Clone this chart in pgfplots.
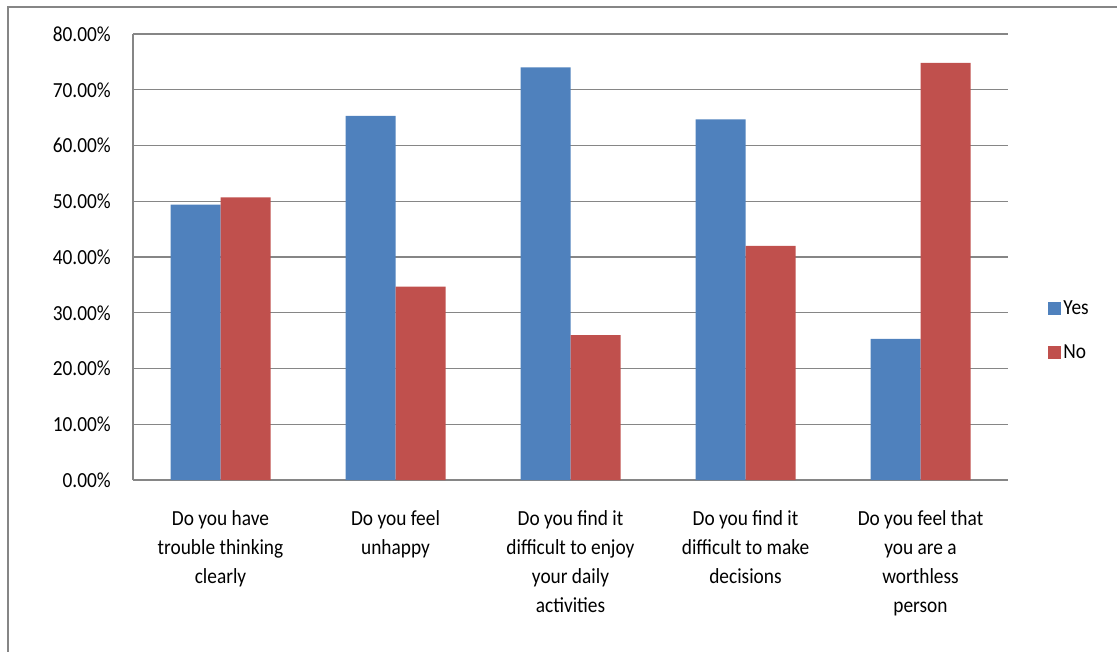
\documentclass[border=0pt]{standalone}
\usepackage{pgfplots}
\pgfplotsset{compat=1.18}
\usepackage{fontspec}
\setmainfont{Carlito}[FakeStretch=0.9]
\definecolor{xblue}{HTML}{4F81BD}
\definecolor{xred}{HTML}{C0504D}
\definecolor{xgrid}{HTML}{868686}
\begin{document}
\begin{tikzpicture}
\useasboundingbox (0,0) rectangle (1117bp,-652bp);
\draw[xgrid, line width=2bp] (8bp,-7bp) rectangle (1140bp,-680bp);
\begin{axis}[
  at={(133bp,-480bp)}, anchor=south west,
  scale only axis, width=875bp, height=446bp,
  xmin=-0.5, xmax=4.5, ymin=0, ymax=80,
  ybar=0pt, bar width=50bp,
  xtick={0,1,2,3,4},
  xticklabels={{Do you have\\trouble thinking\\clearly},{Do you feel\\unhappy},{Do you find it\\difficult to enjoy\\your daily\\activities},{Do you find it\\difficult to make\\decisions},{Do you feel that\\you are a\\worthless\\person}},
  xticklabel style={align=center, font=\fontsize{21.5bp}{29bp}\selectfont, inner sep=0pt, yshift=-30bp},
  ytick={0,10,20,30,40,50,60,70,80},
  yticklabels={0.00\%,10.00\%,20.00\%,30.00\%,40.00\%,50.00\%,60.00\%,70.00\%,80.00\%},
  yticklabel style={font=\fontsize{21.5bp}{24bp}\selectfont, inner sep=0pt, xshift=-22bp},
  major tick length=0pt,
  ymajorgrids, grid style={xgrid, line width=1.3bp},
  axis x line*=bottom, axis y line*=left,
  axis line style={xgrid, line width=1.3bp},
  separate axis lines,
  y axis line style={-}, x axis line style={-},
  legend style={at={(1.046,0.336)}, anchor=west, draw=none, fill=none,
    font=\fontsize{21.5bp}{24bp}\selectfont, row sep=25bp, inner sep=0pt,
    cells={anchor=west}},
  legend image code/.code={\fill[#1] (0bp,-6.5bp) rectangle (13bp,6.5bp);},
  legend cell align=left,
  every legend entry/.append style={xshift=3bp},
]
\addplot[fill=xblue, draw=none] coordinates {(0,49.4) (1,65.3) (2,74.0) (3,64.7) (4,25.3)};
\addplot[fill=xred, draw=none] coordinates {(0,50.7) (1,34.7) (2,26.0) (3,42.0) (4,74.8)};
\legend{Yes,No}
\end{axis}
\end{tikzpicture}
\end{document}
